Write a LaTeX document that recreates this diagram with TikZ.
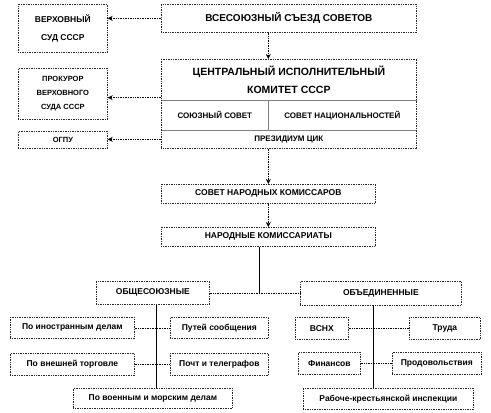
\documentclass[tikz,border=0pt]{standalone}
\usepackage{fontspec}
\setmainfont{Liberation Sans}
\usetikzlibrary{arrows.meta, calc}

\tikzset{
  ramka/.style={draw=black!85, densely dotted, line width=0.7pt},
  blok/.style={ramka, anchor=north west, inner sep=0pt, align=center,
               font=\fontsize{8.5}{10}\selectfont\bfseries},
  strelka/.style={densely dotted, line width=0.7pt, -{Stealth[length=5pt,width=5pt]}},
  svyaz/.style={densely dotted, line width=0.7pt},
  liniya/.style={line width=0.8pt},
  vnutr/.style={draw=gray, line width=0.9pt}
}

\begin{document}
\begin{tikzpicture}[x=1pt, y=-1pt]
  \useasboundingbox (0,0) rectangle (491,413);

  % высшие органы
  \node[blok, minimum width=255, minimum height=28, font=\fontsize{10}{12}\selectfont\bfseries]
    (sezd) at (161,4) {ВСЕСОЮЗНЫЙ СЪЕЗД СОВЕТОВ};
  \node[blok, minimum width=89, minimum height=48, font=\fontsize{8.5}{18}\selectfont\bfseries]
    (vsud) at (18,4) {ВЕРХОВНЫЙ\\СУД СССР};
  \node[blok, minimum width=89, minimum height=51, font=\fontsize{7.5}{14}\selectfont\bfseries]
    (prok) at (18,68) {ПРОКУРОР\\ВЕРХОВНОГО\\СУДА СССР};
  \node[blok, minimum width=89, minimum height=17, font=\fontsize{7.5}{9}\selectfont\bfseries]
    (ogpu) at (18,131) {ОГПУ};

  % ЦИК
  \node[blok, draw=none, minimum width=255, minimum height=41, font=\fontsize{10.5}{18}\selectfont\bfseries]
    (cik) at (161,59) {ЦЕНТРАЛЬНЫЙ ИСПОЛНИТЕЛЬНЫЙ\\КОМИТЕТ СССР};
  \node[blok, draw=none, minimum width=107, minimum height=30, font=\fontsize{8}{10}\selectfont\bfseries]
    (soyuz) at (161,100) {СОЮЗНЫЙ СОВЕТ};
  \node[blok, draw=none, minimum width=148, minimum height=30, font=\fontsize{8}{10}\selectfont\bfseries]
    (nats) at (268,100) {СОВЕТ НАЦИОНАЛЬНОСТЕЙ};
  \node[blok, draw=none, minimum width=255, minimum height=18, font=\fontsize{8}{10}\selectfont\bfseries]
    (prez) at (161,130) {ПРЕЗИДИУМ ЦИК};
  \draw[vnutr] (cik.south west) -- (cik.south east)
               (soyuz.north east) -- (soyuz.south east)
               (prez.north west) -- (prez.north east);
  \draw[ramka] (cik.north west) rectangle (prez.south east);

  % исполнительные органы
  \node[blok, minimum width=214, minimum height=19] (snk) at (161,184) {СОВЕТ НАРОДНЫХ КОМИССАРОВ};
  \node[blok, minimum width=214, minimum height=19] (nk) at (161,227) {НАРОДНЫЕ КОМИССАРИАТЫ};

  \node[blok, minimum width=113, minimum height=23] (obsh) at (96,281) {ОБЩЕСОЮЗНЫЕ};
  \node[blok, minimum width=161, minimum height=24] (obed) at (300,281) {ОБЪЕДИНЕННЫЕ};

  % общесоюзные наркоматы
  \node[blok, minimum width=124, minimum height=21] (inostr) at (10,317) {По иностранным делам};
  \node[blok, minimum width=98, minimum height=21] (putey) at (170,317) {Путей сообщения};
  \node[blok, minimum width=124, minimum height=22] (vnesh) at (10,353) {По внешней торговле};
  \node[blok, minimum width=98, minimum height=22] (pocht) at (170,353) {Почт и телеграфов};
  \node[blok, minimum width=159, minimum height=20] (voen) at (73,388) {По военным и морским делам};

  % объединенные наркоматы
  \node[blok, minimum width=53, minimum height=22] (vsnh) at (295,317) {ВСНХ};
  \node[blok, minimum width=71, minimum height=22] (truda) at (409,317) {Труда};
  \node[blok, minimum width=62, minimum height=22] (fin) at (298,352) {Финансов};
  \node[blok, minimum width=89, minimum height=22] (prod) at (392,352) {Продовольствия};
  \node[blok, minimum width=170, minimum height=21] (insp) at (303,388) {Рабоче-крестьянской инспекции};

  % связи
  \draw[strelka] (sezd.west) -- (sezd.west -| vsud.east);
  \draw[strelka] ([yshift=3pt]cik.south west) -- ([yshift=3pt]cik.south west -| prok.east);
  \draw[strelka] (prez.west) -- (prez.west -| ogpu.east);
  \draw[strelka] (snk |- sezd.south) -- (snk |- cik.north);
  \draw[strelka] (snk |- prez.south) -- (snk.north);
  \draw[strelka] (snk.south) -- (nk.north);

  \coordinate (razvilka) at (259,292.5);
  \draw[liniya] (nk.south -| razvilka) -- (razvilka);
  \draw[svyaz] (obsh.east) -- (obsh.east -| obed.west);

  \draw[liniya] ([xshift=3.5pt]obsh.south) -- ([xshift=3.5pt]obsh.south |- voen.north);
  \draw[liniya] ([xshift=-7.5pt]obed.south) -- ([xshift=-7.5pt]obed.south |- insp.north);

  \draw[svyaz] (inostr.east) -- (putey.west);
  \draw[svyaz] (vnesh.east) -- (pocht.west);
  \draw[svyaz] (vsnh.east) -- (truda.west);
  \draw[svyaz] (fin.east) -- (prod.west);
\end{tikzpicture}
\end{document}
